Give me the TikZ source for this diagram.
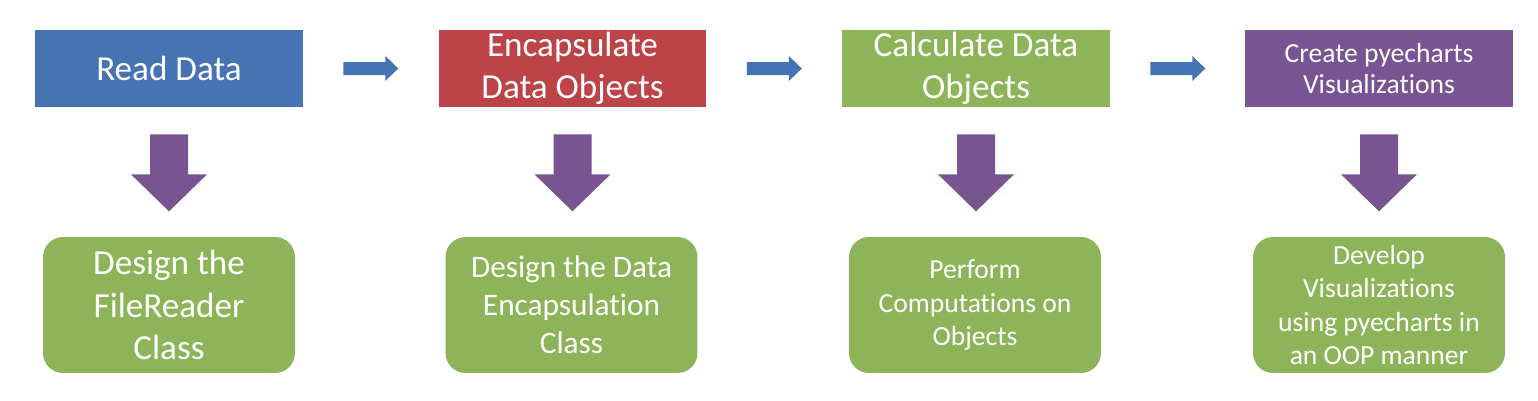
\documentclass[tikz,border=0pt]{standalone}
\usepackage{fontspec}
\setmainfont{Carlito}[Ligatures=CommonOff]
\usetikzlibrary{calc}
\definecolor{boxblue}{HTML}{4673B3}
\definecolor{boxred}{HTML}{BC4448}
\definecolor{boxgreen}{HTML}{8EB45A}
\definecolor{boxpurple}{HTML}{785492}
\def\blockdown(#1){\fill[boxpurple] ($(#1)+(-19,27)$) -- ++(38,0) -- ++(0,40) -- ++(19,0) -- ++(-38,37) -- ++(-38,-37) -- ++(19,0) -- cycle;}
\def\blockright(#1){\fill[boxblue] ($(#1)+(40,-6.5)$) -- ++(42,0) -- ++(0,-6) -- ++(13,12.5) -- ++(-13,12.5) -- ++(0,-6) -- ++(-42,0) -- cycle;}
\tikzset{
  topbox/.style={minimum width=5.36cm, minimum height=1.54cm, inner sep=0pt, text=white, align=center},
  botbox/.style={fill=boxgreen, minimum width=5.04cm, minimum height=2.72cm, rounded corners=0.4cm, inner sep=0pt, text=white, align=center}
}
\begin{document}
\begin{tikzpicture}[x=0.02cm, y=-0.02cm]
	%%%%% START %%%%%
	\useasboundingbox (0,0) rectangle (1538,400);
	
	\node[topbox, fill=boxblue, font=\fontsize{20}{24.5}\selectfont] (read) at (169,68.5) {Read Data};
	\node[topbox, fill=boxred, font=\fontsize{20}{24}\selectfont] (encap) at (572.5,68.5) {Encapsulate\\Data Objects};
	\node[topbox, fill=boxgreen, font=\fontsize{20}{24}\selectfont] (calc) at (976,68.5) {Calculate Data\\Objects};
	\node[topbox, fill=boxpurple, font=\fontsize{15.7}{18.1}\selectfont] (viz) at (1379,68.5) {Create pyecharts\\Visualizations};
	
	\blockright(read.east);
	\blockright(encap.east);
	\blockright(calc.east);
	
	\node[botbox, font=\fontsize{20}{24.4}\selectfont] (fileclass) at (169,305) {Design the\\FileReader\\Class};
	\node[botbox, font=\fontsize{17.8}{21.5}\selectfont] (encclass) at (571.5,305) {Design the Data\\Encapsulation\\Class};
	\node[botbox, font=\fontsize{15.7}{19}\selectfont] (compute) at (975,305) {Perform\\Computations on\\Objects};
	\node[botbox, font=\fontsize{15.7}{18.8}\selectfont] (develop) at (1379,305) {Develop\\Visualizations\\using pyecharts in\\an OOP manner};
	
	\blockdown(read.south);
	\blockdown(encap.south);
	\blockdown(calc.south);
	\blockdown(viz.south);
	%%%%% END %%%%%
\end{tikzpicture}
\end{document}
